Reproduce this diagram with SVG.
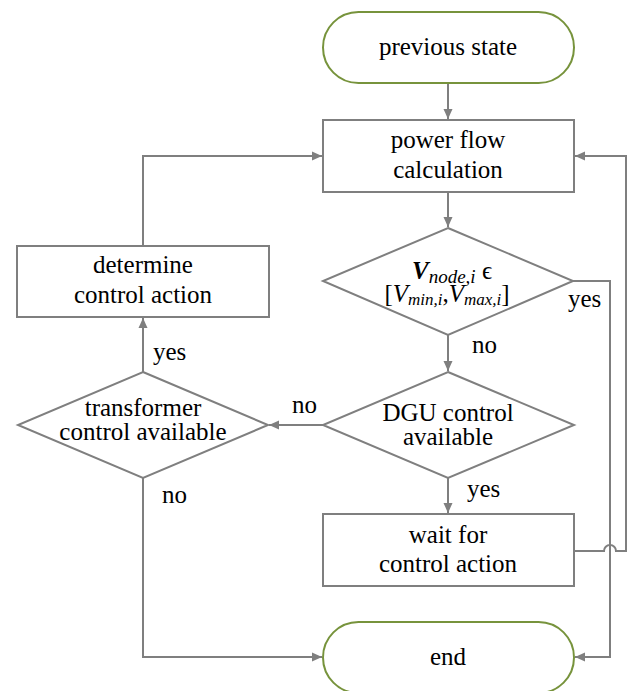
<svg xmlns="http://www.w3.org/2000/svg" width="630" height="691" viewBox="0 0 630 691">
<style>
.t{font-family:'Liberation Serif','Times New Roman',serif;font-size:25px;fill:#000}
.c{text-anchor:middle}
.n{fill:#fff;stroke:#7f7f7f;stroke-width:2}
.g{fill:#fff;stroke:#77933c;stroke-width:2}
.l{fill:none;stroke:#7f7f7f;stroke-width:2}
</style>
<defs>
<marker id="a" markerUnits="userSpaceOnUse" markerWidth="10" markerHeight="10" viewBox="0 0 10 10" refX="10" refY="5" orient="auto">
<path d="M0,0.5 L10,5 L0,9.5 z" fill="#7f7f7f"/>
</marker>
</defs>
<rect width="630" height="691" fill="#fff"/>
<g id="connectors">
<path class="l" d="M448,83 V119" marker-end="url(#a)"/>
<path class="l" d="M448,192 V227" marker-end="url(#a)"/>
<path class="l" d="M448,335 V371" marker-end="url(#a)"/>
<path class="l" d="M448,478 V513" marker-end="url(#a)"/>
<path class="l" d="M323,425 H269" marker-end="url(#a)"/>
<path class="l" d="M143,372 V318" marker-end="url(#a)"/>
<path class="l" d="M143,246 V156 H322" marker-end="url(#a)"/>
<path class="l" d="M143,478 V657 H322" marker-end="url(#a)"/>
<path class="l" d="M573,281 H610 V657 H575" marker-end="url(#a)"/>
<path class="l" d="M574,551 H604 A6 6 0 0 1 616 551 H626 V156 H575" marker-end="url(#a)"/>
</g>
<g id="start">
<rect class="g" x="323" y="12" width="251" height="71" rx="35.5"/>
<text class="t c" x="448" y="55">previous state</text>
</g>
<g id="powerflow">
<rect class="n" x="323" y="120" width="251" height="72"/>
<text class="t c" x="448" y="148">power flow</text>
<text class="t c" x="448" y="178">calculation</text>
</g>
<g id="check">
<polygon class="n" points="448,228 573,281 448,335 323,281"/>
<text class="t c" x="452" y="279"><tspan font-weight="bold" font-style="italic">V</tspan><tspan font-style="italic" font-size="19" dy="4">node,i</tspan><tspan dy="-4"> ϵ</tspan></text>
<text class="t c" x="447" y="302">[<tspan font-style="italic">V</tspan><tspan font-style="italic" font-size="17" dy="3">min,i</tspan><tspan dy="-3">,</tspan><tspan font-style="italic">V</tspan><tspan font-style="italic" font-size="17" dy="3">max,i</tspan><tspan dy="-3">]</tspan></text>
</g>
<g id="dgu">
<polygon class="n" points="448,372 574,425 448,478 323,425"/>
<text class="t c" x="448" y="421">DGU control</text>
<text class="t c" x="448" y="445">available</text>
</g>
<g id="transformer">
<polygon class="n" points="143,372 268,425 143,478 18,425"/>
<text class="t c" x="143" y="416">transformer</text>
<text class="t c" x="143" y="440">control available</text>
</g>
<g id="determine">
<rect class="n" x="17" y="246" width="252" height="71"/>
<text class="t c" x="143" y="273">determine</text>
<text class="t c" x="143" y="303">control action</text>
</g>
<g id="wait">
<rect class="n" x="323" y="514" width="251" height="72"/>
<text class="t c" x="448" y="543">wait for</text>
<text class="t c" x="448" y="572">control action</text>
</g>
<g id="end">
<rect class="g" x="323" y="622" width="251" height="71" rx="35.5"/>
<text class="t c" x="448" y="665">end</text>
</g>
<g id="labels">
<text class="t" x="568" y="307">yes</text>
<text class="t" x="472" y="353">no</text>
<text class="t" x="292" y="413">no</text>
<text class="t" x="153" y="360">yes</text>
<text class="t" x="162" y="503">no</text>
<text class="t" x="467" y="497">yes</text>
</g>
</svg>
